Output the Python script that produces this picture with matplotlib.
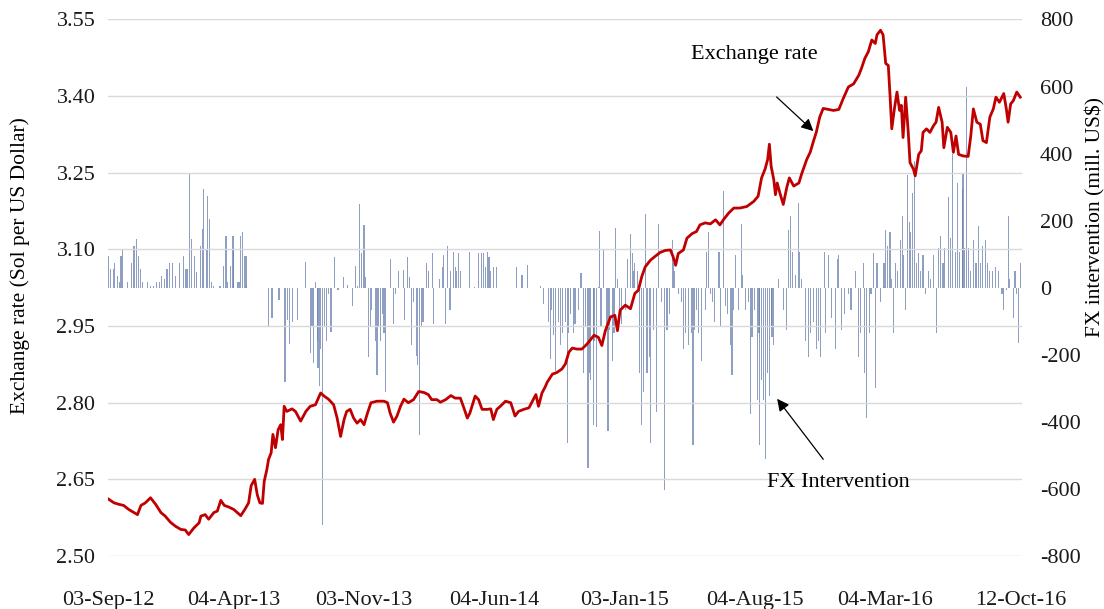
import matplotlib
matplotlib.use("Agg")
import matplotlib.pyplot as plt

plt.rcParams['font.family'] = ['Liberation Serif', 'DejaVu Serif']
plt.rcParams['axes.unicode_minus'] = False

# x axis = trading-day index
tick_idx = [5, 150, 300, 450, 600, 750, 900, 1056]
tick_labels = ['03-Sep-12', '04-Apr-13', '03-Nov-13', '04-Jun-14',
               '03-Jan-15', '04-Aug-15', '04-Mar-16', '12-Oct-16']

# exchange rate (Sol per US Dollar)
rate_day = [5, 12, 18, 23, 29, 35, 39, 43, 48, 54, 60, 66, 71, 77, 83, 89, 94, 98,
            104, 110, 112, 117, 121, 127, 131, 135, 139, 144, 150, 154, 158, 163, 167,
            170, 174, 177, 180, 183, 185, 188, 190, 193, 195, 198, 201, 204, 206, 208,
            211, 217, 221, 227, 233, 238, 244, 250, 254, 259, 265, 269, 273, 277, 280,
            284, 288, 292, 296, 300, 304, 308, 315, 323, 327, 330, 334, 338, 342, 346,
            351, 357, 363, 369, 374, 378, 384, 388, 394, 400, 405, 411, 415, 419, 422,
            428, 432, 436, 442, 446, 449, 453, 457, 463, 469, 474, 478, 484, 490, 495,
            498, 501, 505, 509,
            511, 517, 522, 528, 532, 536, 540, 545, 551, 557, 565, 570, 574, 578, 584,
            589, 592, 595, 601, 607, 612, 616, 620, 624, 630, 635, 641, 647, 653, 656,
            659, 662, 668, 672, 678, 683, 687, 693, 699, 705, 710, 714, 720, 726, 733,
            741, 749, 754, 758, 762, 765, 767, 769, 772, 774, 776, 779, 783, 787, 790,
            795, 801, 804, 810, 814, 818, 821, 825, 829, 835, 841, 847, 852, 858, 864,
            870, 873, 877, 881, 885, 889, 891, 895, 898, 901, 904, 906, 908, 911, 914,
            917, 919, 921, 924, 927, 929, 933, 935, 939, 942, 944, 948, 952, 956, 959,
            962, 966, 968, 972, 976, 979, 982, 985, 990, 996, 999, 1002, 1006, 1010,
            1013, 1017, 1021, 1025, 1028, 1032, 1037, 1040, 1042, 1045, 1048, 1052, 1056]
rate_val = [2.612, 2.604, 2.601, 2.599, 2.591, 2.585, 2.581, 2.599, 2.604, 2.614, 2.601,
            2.585, 2.578, 2.566, 2.558, 2.552, 2.551, 2.542, 2.555, 2.565, 2.578, 2.581,
            2.572, 2.585, 2.588, 2.609, 2.599, 2.596, 2.591, 2.585, 2.579, 2.592, 2.604,
            2.638, 2.650, 2.620, 2.604, 2.603, 2.646, 2.669, 2.689, 2.702, 2.738, 2.712,
            2.747, 2.757, 2.728, 2.793, 2.783, 2.788, 2.783, 2.764, 2.783, 2.793, 2.796,
            2.819, 2.813, 2.807, 2.796, 2.770, 2.734, 2.767, 2.783, 2.787, 2.770, 2.760,
            2.767, 2.757, 2.780, 2.800, 2.803, 2.803, 2.800, 2.780, 2.762, 2.774, 2.793,
            2.807, 2.800, 2.806, 2.822, 2.820, 2.816, 2.806, 2.806, 2.801, 2.806, 2.814,
            2.809, 2.809, 2.790, 2.770, 2.780, 2.813, 2.806, 2.787, 2.787, 2.788, 2.767,
            2.787, 2.793, 2.803, 2.800, 2.774, 2.783, 2.787, 2.790, 2.806, 2.816, 2.793,
            2.819, 2.832,
            2.840, 2.856, 2.859, 2.866, 2.876, 2.899, 2.907, 2.905, 2.905, 2.915, 2.932,
            2.928, 2.912, 2.941, 2.968, 2.971, 2.941, 2.981, 2.991, 2.984, 3.014, 3.020,
            3.047, 3.066, 3.079, 3.086, 3.094, 3.098, 3.099, 3.086, 3.069, 3.092, 3.099,
            3.122, 3.131, 3.135, 3.148, 3.152, 3.150, 3.158, 3.148, 3.158, 3.171, 3.181,
            3.181, 3.184, 3.194, 3.204, 3.240, 3.257, 3.276, 3.306, 3.263, 3.237, 3.207,
            3.230, 3.211, 3.188, 3.221, 3.240, 3.224, 3.230, 3.247, 3.276, 3.290, 3.313,
            3.329, 3.359, 3.376, 3.374, 3.372, 3.374, 3.395, 3.418, 3.424, 3.441, 3.454,
            3.474, 3.487, 3.510, 3.503, 3.520, 3.529, 3.520, 3.464, 3.460, 3.401, 3.336,
            3.375, 3.408, 3.372, 3.382, 3.319, 3.398, 3.329, 3.270, 3.257, 3.244, 3.286,
            3.293, 3.329, 3.336, 3.329, 3.342, 3.349, 3.378, 3.349, 3.299, 3.339, 3.329,
            3.290, 3.322, 3.286, 3.283, 3.282, 3.322, 3.375, 3.349, 3.345, 3.313, 3.309,
            3.359, 3.375, 3.398, 3.388, 3.405, 3.375, 3.349, 3.385, 3.391, 3.408, 3.398]

# FX intervention (mill. US$)
fx_day = [6, 8, 11, 13, 16, 18, 20, 22, 27, 32, 35, 38, 40, 42, 45, 51, 54, 57, 61, 64,
          67, 70, 73, 76, 79, 83, 87, 92, 94, 96, 99, 101, 105, 107, 112, 114, 115, 119,
          120, 122, 124, 127, 134, 138, 141, 143, 146, 149, 150, 154, 156, 158, 160, 162,
          164, 165,
          190, 194, 202, 209, 212, 214, 218, 223, 233, 238, 240, 242, 244, 246, 247, 249,
          250, 252, 254, 257, 259, 262, 266, 270, 276, 281, 287, 290, 292, 295, 297, 300,
          302, 305, 307, 309, 313, 315, 317, 319, 321, 323, 325, 330, 334, 336, 340, 345,
          347, 350, 352, 355, 357, 360, 362, 364, 366, 368, 372, 374, 379, 380, 387, 390,
          392, 394, 396, 399, 400, 403, 405, 407, 409, 411, 422, 427, 432, 435, 438, 440,
          442, 444, 446, 449, 453, 476, 482, 488,
          503, 507, 513, 515, 516, 518, 521, 524, 526, 529, 532, 534, 536, 538, 541, 543,
          547, 550, 553, 555, 558, 560, 561, 564, 565, 568, 570, 571, 573, 576, 579, 581,
          583, 586, 588, 590, 592, 594, 597, 601, 604, 607, 609, 610, 612, 615, 617, 620,
          622, 624, 626, 629, 630, 633, 637, 639, 643, 646, 649, 652, 655, 657, 658, 662,
          666, 668, 670, 674, 677, 679, 681, 683, 685, 689, 693, 695, 697, 699, 701, 704,
          708, 710, 711, 714, 716, 719, 722, 724, 726, 728, 731, 735, 736, 739, 743, 745,
          747, 750, 753, 755, 756, 758, 760, 763, 765, 767, 769, 770, 772, 777, 783, 787,
          789, 791, 794, 797, 801, 802, 804, 809, 812, 814, 818, 821, 824, 826, 830, 832,
          835, 839, 843, 845, 847, 850, 854, 858, 861, 866, 870, 872, 875, 877, 879, 882,
          884, 887, 889, 891, 895, 898, 899, 901, 903, 906, 908, 910, 912, 915, 918, 920,
          922, 924, 926, 928, 930, 932, 934, 936, 939, 941, 944, 947, 950, 953, 956, 960,
          962, 964, 967, 969, 973, 976, 978, 981, 984, 986, 989, 990, 992, 994, 996, 999,
          1002, 1005, 1008, 1010, 1013, 1016, 1018, 1021, 1024, 1027, 1031, 1035, 1037,
          1040, 1042, 1044, 1048, 1050, 1052, 1054, 1056]
fx_val = [95, 56, 56, 75, 36, 16, 95, 115, 16, 75, 125, 145, 95, 56, 16, 16, 6, 6, 16, 16,
          36, 26, 56, 75, 75, 36, 75, 95, 56, 56, 342, 145, 95, 46, 125, 175, 294, 115,
          274, 205, 16, 6, 6, 66, 155, 16, 66, 155, 115, 16, 16, 155, 165, 95,
          95, 6,
          -113, -90, -37, -282, -96, -169, -101, -96, 76, -195, -113, -224, 17, -160, -239, -294,
          -183, -708, -113, -160, -20, -131, 91, -8, 33, 9, -55, 64, 6, 251, 103, 187,
          33, -206, -113, -66, -160, -259, -113, -160, -78, -136, -311, 87, -107, -20, 50, 52,
          -96, 91, 33, -171, -43, -204, -230, -440, -113, -101, 73, 50, 103, -107, 27, 62,
          97, -107, 126, -66, 50, 108, 62, 50, 103, 50, 108, 3, 103, 103, 103, 62,
          108, 91, 50, 62, 62, 62, 38, 68,
          6, -49, -101, -212, -66, -142, -247, -101, -171, -136, -101, -463, -136, -78, -136, -107,
          -66, 44, -253, -113, -539, -253, -276, -410, -160, -416, 3, 169, -113, 114, -125, -428,
          -125, -218, -136, 178, 27, -101, -107, -66, 85, 161, 103, 50, 73, 50, -253, -410,
          -311, 219, -253, -206, -463, -125, -370, 190, -43, -603, -125, -78, 143, 73, 50, -20,
          -43, -183, -136, -171, -136, -469, -125, -66, -136, -218, -66, 108, 167, -20, -43, -101,
          108, 108, -113, 289, -55, -78, -171, -259, -66, 97, -66, 190, 38, -66, -43, -375,
          -148, -66, -335, -136, -469, -276, -335, -510, -253, -323, -113, -148, -171, 27, -66, -125,
          173, 213, 108, 38, 254, 108, 27, -160, -206, -136, -101, -183, -160, -206, 108, -136,
          97, -90, -183, 85, 97, -125, -78, -20, -66, 50, -206, -136, 73, -253, -387, -136,
          -20, 103, -300, 73, -43, 3, 73, 173, 126, 167, 27, -136, 73, 50, 143, 213,
          97, -66, 336, 196, 167, 283, 377, 73, 103, 50, 97, -20, 50, 27, 97, -136,
          120, 155, 73, 120, 272, 149, 400, 108, 312, 108, 295, 342, 120, 598, 120, 50,
          143, 73, 184, 73, 126, 143, 73, 50, 50, 62, 50, -20, -66,
          -8, 213, 27, -90, 50, -20, -166, 73]

fig = plt.figure(figsize=(11.04, 6.09), dpi=100)
ax = fig.add_axes([0.0978, 0.087, 0.8279, 0.881])
ax2 = ax.twinx()

ax2.bar(fx_day, fx_val, width=1.3, color='#6a7fac', alpha=0.75, linewidth=0)
ax.plot(rate_day, rate_val, color='#C00000', linewidth=2.0, solid_joinstyle='round')

# line axes above the bar axes
ax.set_zorder(ax2.get_zorder() + 1)
ax.patch.set_visible(False)

ax.set_xlim(5, 1058)
ax.set_ylim(2.50, 3.55)
ax.set_yticks([2.50, 2.65, 2.80, 2.95, 3.10, 3.25, 3.40, 3.55])
ax.set_yticklabels([f'{v:.2f}' for v in ax.get_yticks()])
ax2.set_ylim(-800, 800)
ax2.set_yticks(range(-800, 801, 200))
ax.set_xticks(tick_idx)
ax.set_xticklabels(tick_labels)

ax.set_axisbelow(True)
ax.grid(axis='y', color='#d9d9d9', linewidth=1.0)
for a in (ax, ax2):
    for s in a.spines.values():
        s.set_visible(False)
ax.tick_params(axis='both', length=0, labelsize=16, colors='#1a1a1a')
ax.tick_params(axis='x', pad=25)
ax.tick_params(axis='y', pad=9)
ax2.tick_params(axis='y', length=0, labelsize=16, colors='#1a1a1a', pad=13)

ax.set_ylabel('Exchange rate (Sol per US Dollar)', fontsize=15.5)
ax2.set_ylabel('FX intervention (mill. US$)', fontsize=15.5)
ax.yaxis.set_label_coords(-0.0963, 0.542)
ax2.yaxis.set_label_coords(1.08, 0.632)
ax.yaxis.label.set_va('center')
ax2.yaxis.label.set_va('center')

ax.annotate('', xy=(820, 3.328), xytext=(773, 3.402),
            arrowprops=dict(arrowstyle='-|>', color='black', lw=0.9, mutation_scale=18))
ax.text(750, 3.481, 'Exchange rate', fontsize=16, ha='center', va='center')
ax.annotate('', xy=(774, 2.812), xytext=(831, 2.685),
            arrowprops=dict(arrowstyle='-|>', color='black', lw=0.9, mutation_scale=18))
ax.text(846, 2.644, 'FX Intervention', fontsize=16, ha='center', va='center')

fig.savefig('out.png', dpi=100)
